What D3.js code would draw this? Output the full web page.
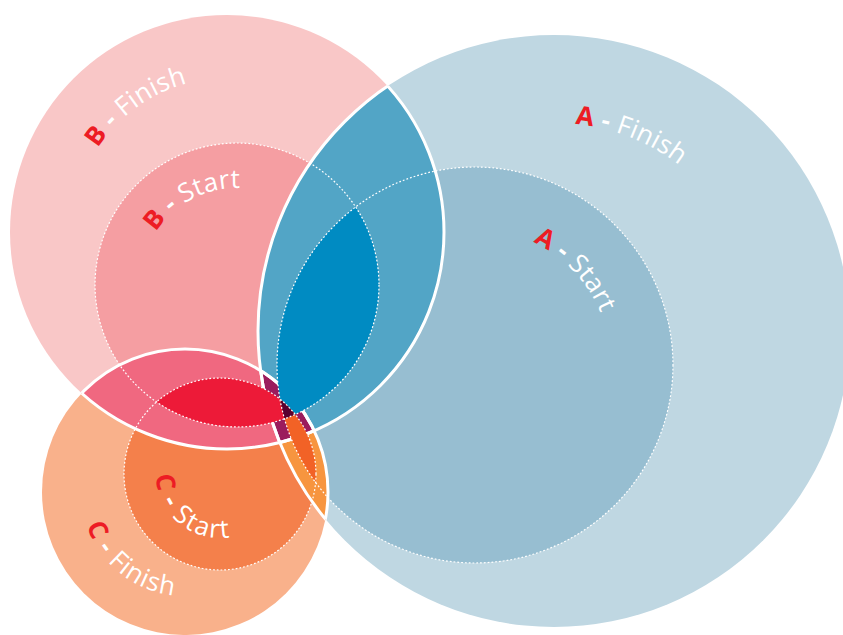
<!DOCTYPE html>
<html><head><meta charset="utf-8">
<script src="https://cdn.jsdelivr.net/npm/d3@7"></script>
<style>html,body{margin:0;padding:0;background:#fff;} svg{display:block;}</style>
</head><body>
<script>
// ---- Data (venn units: A-Finish radius = 100) ----
const sets = ["A", "B", "C"];
const stages = ["Finish", "Start"];
const finishCx = [187.16, 76.69, 62.5];
const finishCy = [111.82, 78.38, 166.22];
const finishR  = [100, 73.31, 48.31];
const startCx  = [160.47, 80.07, 74.32];
const startCy  = [123.31, 96.28, 160.14];
const startR   = [66.89, 47.97, 32.43];
const pairs = [[0, 1], [1, 2], [0, 2]];

// ---- Styles ----
const finishColor = ["#bfd7e2", "#f9c7c7", "#f9b18b"];
const startColor  = ["#97bed1", "#f59ea2", "#f4804b"];
const pairFinishColor = ["#52a5c6", "#f06880", "#f7953f"];
const pairStartColor  = ["#008bc2", "#ed1a38", "#f26226"];
const tripleFinishColor = "#9b1c5d";
const tripleStartColor = "#5a0030";
const letterColor = "#ed1c24";

const W = 843, H = 635;
const s = d3.scaleLinear().domain([0, 100]).range([0, 296]);

const svg = d3.select("body").append("svg").attr("width", W).attr("height", H);
const defs = svg.append("defs");

const F = sets.map((k, i) => ({id: "F" + k, x: s(finishCx[i]), y: s(finishCy[i]), r: s(finishR[i])}));
const S = sets.map((k, i) => ({id: "S" + k, x: s(startCx[i]), y: s(startCy[i]), r: s(startR[i])}));

[...F, ...S].forEach(c => defs.append("clipPath").attr("id", "clip" + c.id)
  .append("circle").attr("cx", c.x).attr("cy", c.y).attr("r", c.r));

function circ(g, c) { return g.append("circle").attr("cx", c.x).attr("cy", c.y).attr("r", c.r); }
function clipped(parent, list) {
  let g = parent;
  list.forEach(c => { g = g.append("g").attr("clip-path", `url(#clip${c.id})`); });
  return g;
}

// single regions
F.forEach((c, i) => circ(svg, c).attr("fill", finishColor[i]));
S.forEach((c, i) => circ(svg, c).attr("fill", startColor[i]));
// finish overlaps
pairs.forEach(([i, j], p) => circ(clipped(svg, [F[i]]), F[j]).attr("fill", pairFinishColor[p]));
circ(clipped(svg, [F[0], F[1]]), F[2]).attr("fill", tripleFinishColor);
// white lens outlines
pairs.forEach(([i, j]) => {
  circ(clipped(svg, [F[j]]), F[i]).attr("fill", "none").attr("stroke", "#fff").attr("stroke-width", 3);
  circ(clipped(svg, [F[i]]), F[j]).attr("fill", "none").attr("stroke", "#fff").attr("stroke-width", 3);
});
// start overlaps
pairs.forEach(([i, j], p) => circ(clipped(svg, [S[i]]), S[j]).attr("fill", pairStartColor[p]));
circ(clipped(svg, [S[0], S[1]]), S[2]).attr("fill", tripleStartColor);
// dotted start outlines
S.forEach(c => circ(svg, c).attr("fill", "none").attr("stroke", "#fff")
  .attr("stroke-width", 1.2).attr("stroke-dasharray", "1.8,2"));

// ---- Labels along arcs ----
const labelGeom = [
  {set: 0, stage: 0, rb: 208, a0: -84.2, dir: 1, ls: 0.3},
  {set: 0, stage: 1, rb: 136, a0: -64.7, dir: 1, ls: 0.3},
  {set: 1, stage: 0, rb: 154, a0: -147, dir: 1, ls: 0.3},
  {set: 1, stage: 1, rb: 97,  a0: -146.8, dir: 1, ls: 0.2},
  {set: 2, stage: 0, rb: 104, a0: 161.2, dir: -1, ls: 0.9},
  {set: 2, stage: 1, rb: 64,  a0: 179, dir: -1, ls: 1.6}
];
const rad = d => d * Math.PI / 180;
labelGeom.forEach((L, k) => {
  const c = (L.stage === 0 ? F : S)[L.set];
  const a1 = L.a0 + L.dir * 170;
  const x0 = c.x + L.rb * Math.cos(rad(L.a0)), y0 = c.y + L.rb * Math.sin(rad(L.a0));
  const x1 = c.x + L.rb * Math.cos(rad(a1)), y1 = c.y + L.rb * Math.sin(rad(a1));
  const id = "lp" + k;
  defs.append("path").attr("id", id)
    .attr("d", `M${x0},${y0} A${L.rb},${L.rb} 0 0 ${L.dir > 0 ? 1 : 0} ${x1},${y1}`);
  const tp = svg.append("text")
    .attr("font-family", "'Open Sans', 'DejaVu Sans', sans-serif")
    .attr("font-size", 26)
    .attr("letter-spacing", L.ls)
    .style("white-space", "pre")
    .append("textPath").attr("href", "#" + id);
  tp.append("tspan").attr("fill", letterColor).attr("font-weight", 700).text(sets[L.set]);
  tp.append("tspan").attr("fill", "#fff").attr("font-weight", 700).text(" - ");
  tp.append("tspan").attr("fill", "#fff").attr("font-weight", 400).text(stages[L.stage]);
});
</script>
</body></html>
